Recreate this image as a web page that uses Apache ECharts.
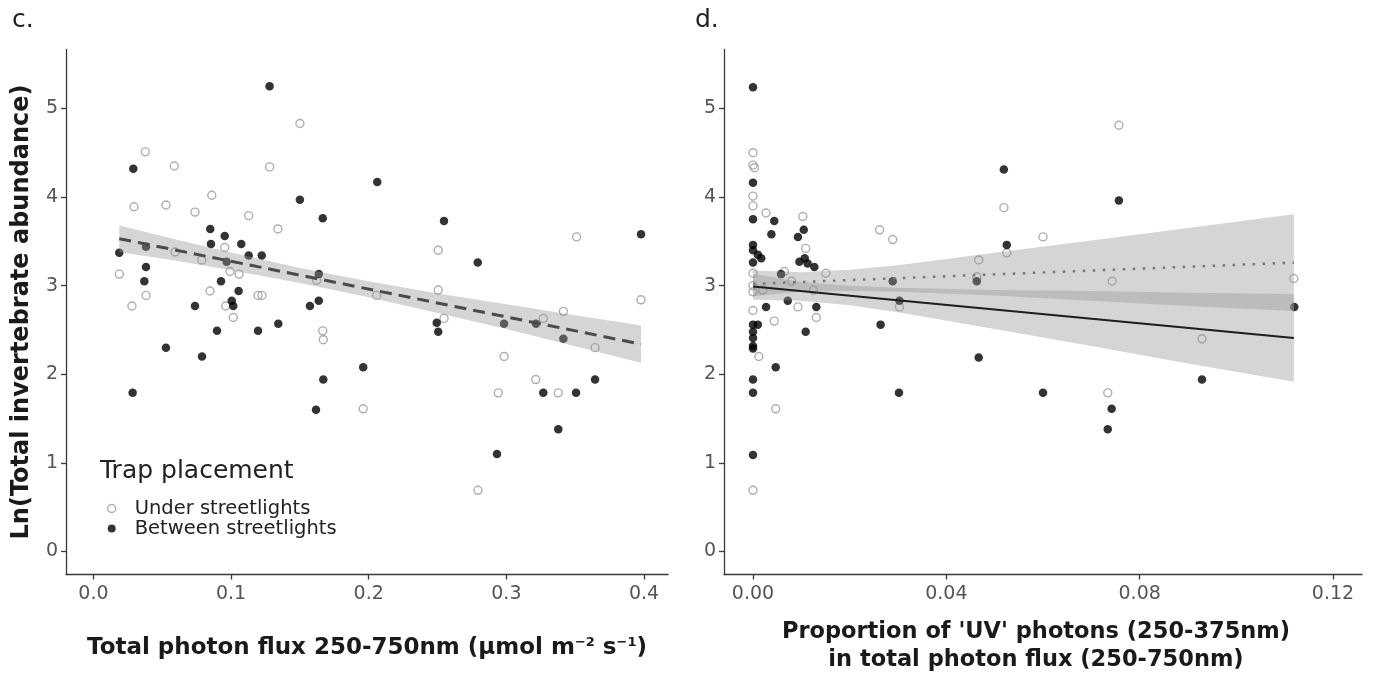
<!DOCTYPE html>
<html>
<head>
<meta charset="utf-8">
<script src="https://cdn.jsdelivr.net/npm/echarts@6/dist/echarts.min.js"></script>
<style>
html,body{margin:0;padding:0;background:#fff;}
#chart{width:1373px;height:673px;}
</style>
</head>
<body>
<div id="chart"></div>
<script>
// ---- Panel c: total photon flux ----
const underFluxX = [0.150,0.0377,0.0588,0.128,0.086,0.0295,0.0527,0.0738,0.1128,0.134,0.0954,0.0593,0.0787,0.0188,0.0992,0.1058,0.1622,0.0847,0.0382,0.1196,0.1225,0.028,0.0961,0.1016,0.1666,0.167,0.2505,0.351,0.3978,0.2505,0.2058,0.2547,0.3268,0.3414,0.3644,0.2983,0.196,0.3213,0.2941,0.3377,0.2794];
const underFluxY = [4.83,4.51,4.35,4.34,4.02,3.89,3.91,3.83,3.79,3.64,3.43,3.38,3.29,3.13,3.16,3.13,3.06,2.94,2.89,2.89,2.89,2.77,2.77,2.64,2.49,2.39,3.40,3.55,2.84,2.95,2.89,2.63,2.63,2.71,2.30,2.20,1.61,1.94,1.79,1.79,0.69];
const betweenFluxX = [0.128,0.029,0.150,0.1666,0.0849,0.0954,0.0854,0.1074,0.0188,0.0382,0.1128,0.1223,0.0968,0.0382,0.037,0.0927,0.1637,0.1055,0.0738,0.1005,0.1016,0.1573,0.1637,0.0898,0.1196,0.1343,0.0527,0.0789,0.167,0.0285,0.1617,0.2062,0.2547,0.2792,0.3978,0.2494,0.2505,0.2983,0.3215,0.3414,0.196,0.3644,0.3268,0.3506,0.3377,0.2932];
const betweenFluxY = [5.25,4.32,3.97,3.76,3.64,3.56,3.47,3.47,3.37,3.44,3.34,3.34,3.27,3.21,3.05,3.05,3.13,2.94,2.77,2.83,2.77,2.77,2.83,2.49,2.49,2.57,2.30,2.20,1.94,1.79,1.60,4.17,3.73,3.26,3.58,2.58,2.48,2.57,2.57,2.40,2.08,1.94,1.79,1.79,1.38,1.10];
const fluxFitX = [0.0188, 0.3978];
const fluxFitY = [3.53, 2.34];
const fluxBandX  = [0.0188, 0.06, 0.10, 0.15, 0.20, 0.25, 0.30, 0.35, 0.3978];
const fluxBandLo = [3.38, 3.28, 3.175, 3.03, 2.87, 2.69, 2.51, 2.315, 2.13];
const fluxBandHi = [3.68, 3.52, 3.375, 3.20, 3.05, 2.91, 2.79, 2.665, 2.55];

// ---- Panel d: proportion of UV photons ----
const underUvX = [0,0,0.0003,0,0,0.0027,0.0103,0.0109,0,0.0151,0.0262,0.0289,0,0,0.0093,0.0131,0.0044,0,0.0012,0.0047,0.0303,0,0.0757,0.0519,0.060,0.0525,0.0467,0.0463,0.0743,0.1119,0.0929,0.0734,0.0065,0.0125,0.002,0.008];
const underUvY = [4.50,4.36,4.33,4.01,3.90,3.82,3.78,3.42,3.14,3.14,3.63,3.52,3.00,2.93,2.76,2.64,2.60,2.72,2.20,1.61,2.76,0.69,4.81,3.88,3.55,3.37,3.29,3.10,3.05,3.08,2.40,1.79,3.16,2.95,2.95,3.05];
const betweenUvX = [0,0,0,0.0044,0.0038,0.0105,0.0093,0,0,0.001,0.0017,0,0.0096,0.0107,0.0113,0.0127,0.0058,0.0289,0.0027,0.0072,0.0131,0.0109,0,0.001,0,0,0,0,0.0047,0,0,0,0.0264,0.0302,0.0303,0.0519,0.0757,0.0525,0.0463,0.112,0.0467,0.0929,0.060,0.0742,0.0734];
const betweenUvY = [5.24,4.16,3.75,3.73,3.58,3.63,3.55,3.46,3.40,3.35,3.31,3.26,3.27,3.31,3.25,3.21,3.13,3.05,2.76,2.83,2.76,2.48,2.56,2.56,2.48,2.41,2.32,2.29,2.08,1.94,1.79,1.09,2.56,1.79,2.83,4.31,3.96,3.46,3.05,2.76,2.19,1.94,1.79,1.61,1.38];
const underUvFitX = [0, 0.1119];
const underUvFitY = [3.02, 3.26];
const betweenUvFitX = [0, 0.1119];
const betweenUvFitY = [2.99, 2.41];
const uvBandX = [0, 0.01, 0.02, 0.03, 0.05, 0.07, 0.09, 0.1119];
const underUvLo = [2.88, 2.93, 2.94, 2.93, 2.89, 2.83, 2.77, 2.715];
const underUvHi = [3.17, 3.15, 3.18, 3.23, 3.37, 3.51, 3.65, 3.805];
const betweenUvLo = [2.84, 2.83, 2.78, 2.70, 2.51, 2.32, 2.12, 1.915];
const betweenUvHi = [3.13, 3.04, 3.00, 2.975, 2.95, 2.94, 2.92, 2.905];

// ---- ticks / labels ----
const fluxTicks = [0, 0.1, 0.2, 0.3, 0.4];
const uvTicks = [0, 0.04, 0.08, 0.12];
const yTicks = [0, 1, 2, 3, 4, 5];
const seriesNames = ['Under streetlights', 'Between streetlights'];

const FONT = '"DejaVu Sans", Verdana, sans-serif';
const zip = (xs, ys) => xs.map((x, i) => [x, ys[i]]);

function band(ax, xs, lo, hi) {
  return {
    type: 'custom', xAxisIndex: ax, yAxisIndex: ax, z: 3, silent: true, clip: true,
    data: [[xs[0], lo[0]]],
    renderItem: function (params, api) {
      const pts = [];
      for (let i = 0; i < xs.length; i++) pts.push(api.coord([xs[i], hi[i]]));
      for (let i = xs.length - 1; i >= 0; i--) pts.push(api.coord([xs[i], lo[i]]));
      return { type: 'polygon', shape: { points: pts }, style: { fill: 'rgba(150,150,150,0.4)' } };
    }
  };
}

const openStyle = { color: 'rgba(0,0,0,0)', borderColor: '#9a9a9a', borderWidth: 1.4 };
const fillStyle = { color: '#000' };

const axisLineStyle = { lineStyle: { color: '#3a3a3a', width: 1.3 } };
const tickLabelStyle = { color: '#555', fontSize: 19, fontFamily: FONT };

function yAxis(idx, withName) {
  return {
    type: 'value', gridIndex: idx, min: -0.26, max: 5.665,
    axisLine: Object.assign({ show: true, onZero: false }, axisLineStyle),
    axisTick: { show: true, length: 5, customValues: yTicks, lineStyle: { color: '#3a3a3a', width: 1.3 } },
    axisLabel: Object.assign({ customValues: yTicks, margin: 8, formatter: v => String(Math.round(v)) }, tickLabelStyle),
    splitLine: { show: false },
    name: withName ? 'Ln(Total invertebrate abundance)' : '',
    nameLocation: 'middle', nameGap: 32, nameRotate: 90,
    nameTextStyle: { fontWeight: 'bold', fontSize: 24, color: '#1a1a1a', fontFamily: FONT }
  };
}

const option = {
  animation: false,
  backgroundColor: '#fff',
  textStyle: { fontFamily: FONT },
  title: [
    { text: 'c.', left: 7, top: 3, textStyle: { fontSize: 25, fontWeight: 'normal', color: '#222', fontFamily: FONT } },
    { text: 'd.', left: 690, top: 3, textStyle: { fontSize: 25, fontWeight: 'normal', color: '#222', fontFamily: FONT } },
    { text: 'Trap placement', left: 95, top: 454, textStyle: { fontSize: 25, fontWeight: 'normal', color: '#222', fontFamily: FONT } }
  ],
  legend: {
    left: 107, top: 498.5, padding: 0, orient: 'vertical', itemWidth: 8, itemHeight: 8, itemGap: 0,
    textStyle: { fontSize: 19.5, lineHeight: 19.5, color: '#222', fontFamily: FONT, padding: [0, 0, 0, 14] },
    data: [
      { name: seriesNames[0], icon: 'circle', itemStyle: openStyle },
      { name: seriesNames[1], icon: 'circle', itemStyle: fillStyle }
    ],
    selectedMode: false
  },
  grid: [
    { left: 66, top: 49.5, width: 602, height: 525, outerBoundsMode: 'none', containLabel: false },
    { left: 724, top: 49.5, width: 638, height: 525, outerBoundsMode: 'none', containLabel: false }
  ],
  xAxis: [
    {
      type: 'value', gridIndex: 0, min: -0.0199, max: 0.4174,
      axisLine: Object.assign({ show: true, onZero: false }, axisLineStyle),
      axisTick: { show: true, length: 5, customValues: fluxTicks, lineStyle: { color: '#3a3a3a', width: 1.3 } },
      axisLabel: Object.assign({ customValues: fluxTicks, margin: 10, formatter: v => v.toFixed(1) }, tickLabelStyle),
      splitLine: { show: false },
      name: 'Total photon flux 250-750nm (µmol m{sup|−2} s{sup|−1})',
      nameLocation: 'middle', nameGap: 62,
      nameTextStyle: {
        fontWeight: 'bold', fontSize: 23, color: '#1a1a1a', fontFamily: FONT,
        rich: { sup: { fontWeight: 'bold', fontSize: 13, color: '#1a1a1a', fontFamily: FONT, verticalAlign: 'top', padding: [0, 0, 10, 0] } }
      }
    },
    {
      type: 'value', gridIndex: 1, min: -0.006, max: 0.126,
      axisLine: Object.assign({ show: true, onZero: false }, axisLineStyle),
      axisTick: { show: true, length: 5, customValues: uvTicks, lineStyle: { color: '#3a3a3a', width: 1.3 } },
      axisLabel: Object.assign({ customValues: uvTicks, margin: 10, formatter: v => v.toFixed(2) }, tickLabelStyle),
      splitLine: { show: false },
      name: "Proportion of 'UV' photons (250-375nm)\nin total photon flux (250-750nm)",
      nameLocation: 'middle', nameGap: 44,
      nameTextStyle: { fontWeight: 'bold', fontSize: 22.5, color: '#1a1a1a', fontFamily: FONT, lineHeight: 28, padding: [0, 14, 0, 0] }
    }
  ],
  yAxis: [yAxis(0, true), yAxis(1, false)],
  series: [
    { name: seriesNames[0], type: 'scatter', xAxisIndex: 0, yAxisIndex: 0, z: 2, symbol: 'circle', symbolSize: 8, itemStyle: openStyle, data: zip(underFluxX, underFluxY) },
    { name: seriesNames[1], type: 'scatter', xAxisIndex: 0, yAxisIndex: 0, z: 2, symbol: 'circle', symbolSize: 8.5, itemStyle: fillStyle, data: zip(betweenFluxX, betweenFluxY) },
    band(0, fluxBandX, fluxBandLo, fluxBandHi),
    { type: 'line', xAxisIndex: 0, yAxisIndex: 0, z: 4, silent: true, showSymbol: false, data: zip(fluxFitX, fluxFitY),
      lineStyle: { color: '#4a4a4a', width: 3, type: [12, 7] } },

    { name: seriesNames[0], type: 'scatter', xAxisIndex: 1, yAxisIndex: 1, z: 2, symbol: 'circle', symbolSize: 8, itemStyle: openStyle, data: zip(underUvX, underUvY) },
    { name: seriesNames[1], type: 'scatter', xAxisIndex: 1, yAxisIndex: 1, z: 2, symbol: 'circle', symbolSize: 8.5, itemStyle: fillStyle, data: zip(betweenUvX, betweenUvY) },
    band(1, uvBandX, underUvLo, underUvHi),
    band(1, uvBandX, betweenUvLo, betweenUvHi),
    { type: 'line', xAxisIndex: 1, yAxisIndex: 1, z: 4, silent: true, showSymbol: false, data: zip(underUvFitX, underUvFitY),
      lineStyle: { color: '#777', width: 2.5, type: [2.5, 7.5] } },
    { type: 'line', xAxisIndex: 1, yAxisIndex: 1, z: 4, silent: true, showSymbol: false, data: zip(betweenUvFitX, betweenUvFitY),
      lineStyle: { color: '#1e1e1e', width: 2 } }
  ]
};

const chart = echarts.init(document.getElementById('chart'), null, { renderer: 'canvas' });
chart.setOption(option);
</script>
</body>
</html>
